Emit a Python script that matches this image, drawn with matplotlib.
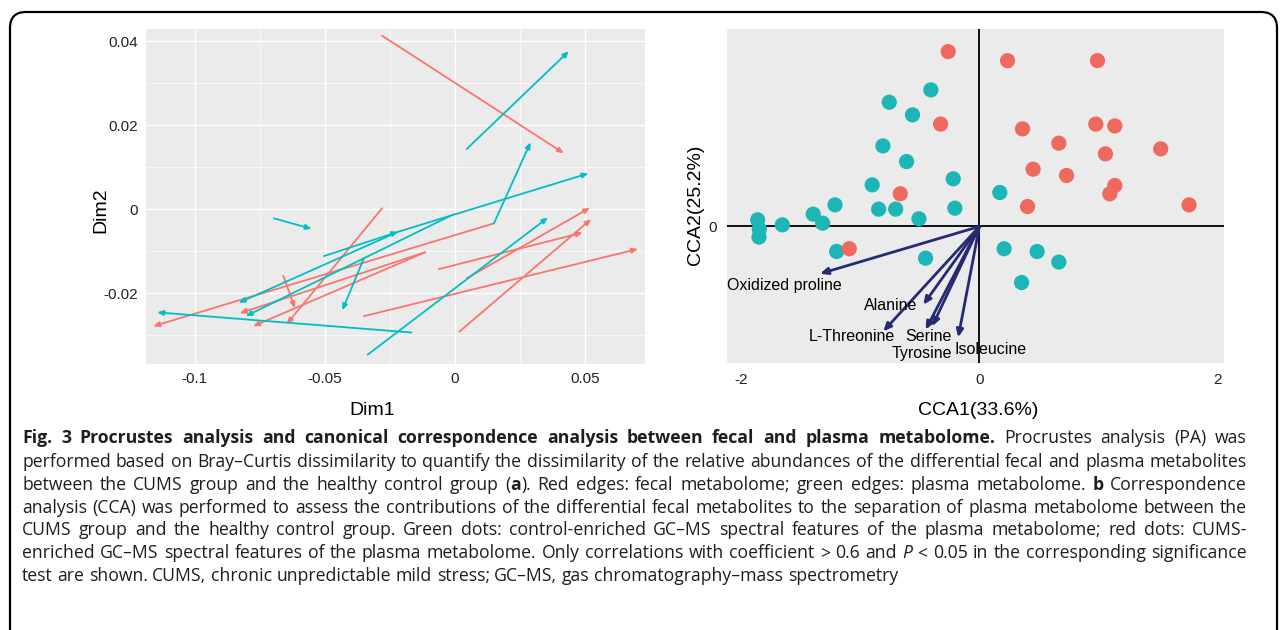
import matplotlib
matplotlib.use("Agg")
import matplotlib.pyplot as plt
from matplotlib.patches import FancyBboxPatch
from matplotlib.transforms import IdentityTransform

# --- a: Procrustes edges (red = fecal, teal = plasma) ---
plasma_x0 = [-0.0696, 0.0045, 0.0150, -0.0218, -0.0504, -0.0218, -0.0007, -0.0350, -0.0167, -0.0336]
plasma_y0 = [-0.0022, 0.0143, -0.0034, -0.0054, -0.0112, -0.0054, -0.0013, -0.0117, -0.0294, -0.0347]
plasma_x1 = [-0.0551, 0.0438, 0.0291, 0.0513, -0.0218, -0.0831, -0.0804, -0.0433, -0.1145, 0.0358]
plasma_y1 = [-0.0047, 0.0376, 0.0159, 0.0085, -0.0054, -0.0223, -0.0255, -0.0241, -0.0246, -0.0020]

fecal_x0 = [-0.0280, 0.0150, -0.0115, -0.0115, -0.0280, -0.0660, -0.0062, -0.0350, 0.0017, 0.0045]
fecal_y0 = [0.0413, -0.0034, -0.0103, -0.0103, 0.0002, -0.0159, -0.0143, -0.0255, -0.0292, -0.0165]
fecal_x1 = [0.0419, -0.1160, -0.0827, -0.0776, -0.0647, -0.0615, 0.0491, 0.0704, 0.0524, 0.0519]
fecal_y1 = [0.0133, -0.0279, -0.0248, -0.0279, -0.0274, -0.0236, -0.0056, -0.0095, -0.0024, 0.0003]

# --- b: CCA ---
control_x = [-0.408, -0.758, -0.562, -0.811, -0.612, -0.220, -0.901, -1.214, -0.847, -0.704, -0.206,
             -1.397, -1.318, -0.508, -1.657, -1.864, 0.172, -1.850, -1.853, -1.200, -0.452, 0.208,
             0.486, 0.668, 0.355]
control_y = [1.149, 1.045, 0.939, 0.678, 0.546, 0.401, 0.350, 0.182, 0.146, 0.146, 0.154,
             0.104, 0.028, 0.065, 0.014, 0.056, 0.286, -0.022, -0.089, -0.210, -0.266, -0.187,
             -0.210, -0.299, -0.471]
cums_x = [-0.262, 0.237, 0.993, -0.326, 0.363, 0.979, 1.139, 0.668, 1.060, 1.525, 0.452, 0.733,
          1.139, 1.097, -0.665, 0.405, 1.763, -1.094]
cums_y = [1.471, 1.395, 1.395, 0.861, 0.821, 0.861, 0.846, 0.701, 0.611, 0.653, 0.482, 0.429,
          0.345, 0.275, 0.275, 0.168, 0.182, -0.187]

metabolites = ["Oxidized proline", "Alanine", "L-Threonine", "Serine", "Tyrosine", "Isoleucine"]
arrow_x = [-1.340, -0.472, -0.808, -0.397, -0.452, -0.178]
arrow_y = [-0.397, -0.658, -0.882, -0.840, -0.868, -0.933]
label_x = [-1.636, -0.746, -1.074, -0.430, -0.486, 0.094]
label_y = [-0.498, -0.666, -0.929, -0.929, -1.070, -1.036]

RED = "#F8766D"
TEAL = "#00BFC4"
NAVY = "#262A72"

caption = [
    [("Fig. 3 Procrustes analysis and canonical correspondence analysis between fecal and plasma metabolome.", "bold"),
     (" Procrustes analysis (PA) was", "normal")],
    [("performed based on Bray–Curtis dissimilarity to quantify the dissimilarity of the relative abundances of the differential fecal and plasma metabolites", "normal")],
    [("between the CUMS group and the healthy control group (", "normal"), ("a", "bold"),
     ("). Red edges: fecal metabolome; green edges: plasma metabolome. ", "normal"), ("b", "bold"),
     (" Correspondence", "normal")],
    [("analysis (CCA) was performed to assess the contributions of the differential fecal metabolites to the separation of plasma metabolome between the", "normal")],
    [("CUMS group and the healthy control group. Green dots: control-enriched GC–MS spectral features of the plasma metabolome; red dots: CUMS-", "normal")],
    [("enriched GC–MS spectral features of the plasma metabolome. Only correlations with coefficient > 0.6 and ", "normal"),
     ("P", "italic"), (" < 0.05 in the corresponding significance", "normal")],
    [("test are shown. CUMS, chronic unpredictable mild stress; GC–MS, gas chromatography–mass spectrometry", "normal")],
]

plt.rcParams["font.family"] = ["Liberation Sans", "DejaVu Sans"]

W, H = 1281, 630
fig = plt.figure(figsize=(W / 100, H / 100), dpi=100)
fig.patch.set_facecolor("white")


def axes_px(x0, y0, x1, y1):
    return fig.add_axes([x0 / W, 1 - y1 / H, (x1 - x0) / W, (y1 - y0) / H])


# ---------- panel a ----------
ax1 = axes_px(146, 29, 645, 364)
ax1.set_facecolor("#EBEBEB")
ax1.set_xlim(-0.1188, 0.0731)
ax1.set_ylim(-0.0369, 0.0429)
ax1.set_xticks([-0.1, -0.05, 0, 0.05])
ax1.set_xticklabels(["-0.1", "-0.05", "0", "0.05"])
ax1.set_yticks([-0.02, 0, 0.02, 0.04])
ax1.set_yticklabels(["-0.02", "0", "0.02", "0.04"])
ax1.set_xticks([-0.075, -0.025, 0.025], minor=True)
ax1.set_yticks([-0.03, -0.01, 0.01, 0.03], minor=True)
ax1.grid(which="major", color="white", lw=1.0)
ax1.grid(which="minor", color="white", lw=0.5)
ax1.set_axisbelow(True)
for s in ax1.spines.values():
    s.set_visible(False)
ax1.tick_params(which="both", length=0, labelsize=11, colors="#222222", pad=6)

for xs, ys, xe, ye, c in [(fecal_x0, fecal_y0, fecal_x1, fecal_y1, RED),
                          (plasma_x0, plasma_y0, plasma_x1, plasma_y1, TEAL)]:
    for a, b, cc, d in zip(xs, ys, xe, ye):
        ax1.annotate("", xy=(cc, d), xytext=(a, b),
                     arrowprops=dict(arrowstyle="-|>,head_length=0.35,head_width=0.15",
                                     color=c, lw=1.3, shrinkA=0, shrinkB=0))

ax1.set_xlabel("Dim1", fontsize=14)
ax1.set_ylabel("Dim2", fontsize=14)
ax1.xaxis.set_label_coords(0.453, -0.113)
ax1.yaxis.set_label_coords(-0.074, 0.46)

# ---------- panel b ----------
ax2 = axes_px(727, 29, 1224, 363)
ax2.set_facecolor("#EBEBEB")
ax2.set_xlim(-2.122, 2.057)
ax2.set_ylim(-1.148, 1.661)
ax2.set_xticks([-2, 0, 2])
ax2.set_xticklabels(["-2", "0", "2"])
ax2.set_yticks([0])
ax2.set_yticklabels(["0"])
for s in ax2.spines.values():
    s.set_visible(False)
ax2.tick_params(length=0, labelsize=11, colors="#222222")
ax2.tick_params(axis="x", pad=7)
ax2.tick_params(axis="y", pad=7)
ax2.axhline(0, color="black", lw=1.3, zorder=1)
ax2.axvline(0, color="black", lw=1.3, zorder=1)

ax2.scatter(control_x, control_y, s=120, color="#1DB6B7", edgecolors="none", zorder=3)
ax2.scatter(cums_x, cums_y, s=120, color="#EE6A5E", edgecolors="none", zorder=3)

for name, ax_, ay_, lx, ly in zip(metabolites, arrow_x, arrow_y, label_x, label_y):
    ax2.annotate("", xy=(ax_, ay_), xytext=(0, 0),
                 arrowprops=dict(arrowstyle="-|>,head_length=0.45,head_width=0.2",
                                 color=NAVY, lw=2.0, shrinkA=0, shrinkB=0), zorder=4)
    ax2.text(lx, ly, name, fontsize=11.5, ha="center", va="center", color="black", zorder=5)

ax2.set_xlabel("CCA1(33.6%)", fontsize=14)
ax2.set_ylabel("CCA2(25.2%)", fontsize=14)
ax2.xaxis.set_label_coords(0.505, -0.116)
ax2.yaxis.set_label_coords(-0.046, 0.4735)

# ---------- rounded frame ----------
frame = FancyBboxPatch((10, -40), 1267, 658, boxstyle="round,pad=0,rounding_size=16",
                       transform=IdentityTransform(), fill=False, ec="black", lw=1.6)
fig.patches.append(frame)
frame.set_figure(fig)

# ---------- justified caption ----------
cap_font = ["Open Sans", "DejaVu Sans"]
x_left, x_right = 22, 1247
baselines = [443, 467, 490, 513, 535, 558, 581]
renderer = fig.canvas.get_renderer()


def style_kw(st):
    if st == "bold":
        return dict(fontweight="bold")
    if st == "italic":
        return dict(fontstyle="italic")
    return {}


def split_words(runs):
    words = [[]]
    for txt, st in runs:
        parts = txt.split(" ")
        for pi, p in enumerate(parts):
            if pi > 0:
                words.append([])
            if p:
                words[-1].append((p, st))
    return [w for w in words if w]


def place_line(words, yb, size):
    arts, widths = [], []
    for w in words:
        row, ww = [], 0
        for p, st in w:
            t = fig.text(0, yb, p, fontsize=size, family=cap_font, color="#1E1E1E",
                         va="baseline", ha="left", **style_kw(st))
            wd = t.get_window_extent(renderer).width
            row.append((t, wd))
            ww += wd
        arts.append(row)
        widths.append(ww)
    return arts, widths


# fit the font so that every justified line keeps a small word gap
cap_size = 14.0
min_gap = 4.8
scale = 1.0
for runs in caption[:-1]:
    words = split_words(runs)
    arts, widths = place_line(words, 0, cap_size)
    for row in arts:
        for t, _ in row:
            t.remove()
    avail = x_right - x_left - (len(words) - 1) * min_gap
    scale = min(scale, avail / sum(widths))
cap_size *= scale

for li, runs in enumerate(caption):
    words = split_words(runs)
    yb = 1 - baselines[li] / H
    arts, widths = place_line(words, yb, cap_size)
    if li < len(caption) - 1:
        gap = (x_right - x_left - sum(widths)) / (len(words) - 1)
    else:
        gap = cap_size * 100 / 72 * 0.26
    x = x_left
    for row, ww in zip(arts, widths):
        xx = x
        for t, wd in row:
            t.set_x(xx / W)
            xx += wd
        x += ww + gap

fig.savefig("out.png", dpi=100, facecolor="white")
